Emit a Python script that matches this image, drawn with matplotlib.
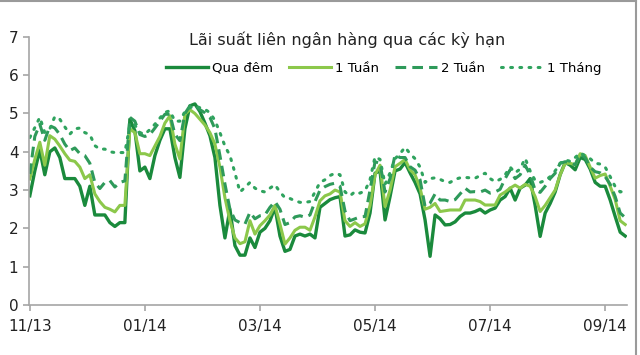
import numpy as np
import matplotlib
matplotlib.use("Agg")
import matplotlib.pyplot as plt
from matplotlib.lines import Line2D

# Interbank rates, one value per sample point (Nov 2013 - mid Sep 2014)
qua_dem = [
    2.85, 3.50, 4.05, 3.40, 4.00, 4.10, 3.85, 3.30, 3.30, 3.30,
    3.10, 2.60, 3.10, 2.35, 2.35, 2.35, 2.15, 2.05, 2.15, 2.15,
    4.85, 4.55, 3.50, 3.60, 3.30, 3.90, 4.30, 4.60, 4.60, 3.85,
    3.33, 4.60, 5.20, 5.25, 5.05, 4.75, 4.42, 3.85, 2.60, 1.75,
    2.50, 1.55, 1.30, 1.30, 1.75, 1.50, 1.90, 2.00, 2.20, 2.55,
    1.80, 1.40, 1.45, 1.80, 1.85, 1.80, 1.85, 1.75, 2.55, 2.65,
    2.75, 2.80, 2.83, 1.80, 1.83, 1.96, 1.90, 1.88, 2.40, 3.44,
    3.50, 2.22, 2.83, 3.50, 3.55, 3.72, 3.45, 3.20, 2.90, 2.22,
    1.27, 2.35, 2.25, 2.09, 2.10, 2.17, 2.31, 2.40, 2.40, 2.44,
    2.50, 2.40, 2.48, 2.53, 2.74, 2.83, 3.05, 2.74, 3.05, 3.13,
    3.30, 2.60, 1.79, 2.40, 2.65, 2.95, 3.40, 3.72, 3.65, 3.53,
    3.85, 3.80, 3.55, 3.20, 3.10, 3.10, 2.74, 2.31, 1.90, 1.80,
]
tuan_1 = [
    3.29, 3.80, 4.25, 3.65, 4.42, 4.33, 4.15, 3.95, 3.78, 3.75,
    3.60, 3.30, 3.40, 2.90, 2.70, 2.55, 2.50, 2.43, 2.60, 2.60,
    4.60, 4.50, 3.95, 3.95, 3.90, 4.15, 4.40, 4.75, 4.94, 4.20,
    3.81, 4.98, 5.10, 5.00, 4.85, 4.70, 4.50, 4.20, 3.60, 2.80,
    2.20, 1.75, 1.60, 1.65, 2.20, 1.85, 2.07, 2.20, 2.35, 2.60,
    2.11, 1.59, 1.75, 1.95, 2.03, 2.03, 1.95, 2.30, 2.72, 2.85,
    2.90, 3.00, 2.95, 2.20, 2.05, 2.15, 2.05, 2.12, 2.60, 3.40,
    3.65, 2.57, 3.00, 3.61, 3.70, 3.80, 3.53, 3.40, 3.05, 2.50,
    2.55, 2.65, 2.44, 2.46, 2.48, 2.48, 2.48, 2.74, 2.74, 2.74,
    2.70, 2.61, 2.61, 2.61, 2.87, 2.95, 3.05, 3.13, 3.05, 3.15,
    3.10, 2.83, 2.44, 2.60, 2.80, 3.00, 3.40, 3.70, 3.70, 3.66,
    3.95, 3.90, 3.60, 3.31, 3.38, 3.42, 3.10, 2.75, 2.20, 2.10,
]
tuan_2 = [
    3.42, 4.40, 4.72, 4.30, 4.68, 4.62, 4.45, 4.20, 4.03, 4.10,
    3.95, 3.90, 3.70, 3.20, 3.04, 3.20, 3.25, 3.08, 3.20, 3.24,
    4.90, 4.80, 4.45, 4.40, 4.45, 4.62, 4.80, 4.98, 4.98, 4.46,
    4.29, 5.00, 5.20, 5.22, 5.10, 5.02, 4.90, 4.60, 3.90, 3.16,
    2.50, 2.22, 2.15, 2.11, 2.42, 2.25, 2.33, 2.35, 2.55, 2.70,
    2.50, 2.10, 2.15, 2.30, 2.33, 2.29, 2.35, 2.70, 3.00, 3.09,
    3.15, 3.18, 3.10, 2.45, 2.20, 2.25, 2.30, 2.31, 3.00, 3.74,
    3.70, 2.95, 3.30, 3.92, 3.85, 3.85, 3.61, 3.52, 3.27, 2.57,
    2.66, 2.90, 2.74, 2.74, 2.70, 2.75, 2.90, 3.05, 2.95, 2.96,
    2.95, 3.00, 2.92, 2.95, 3.02, 3.30, 3.53, 3.30, 3.40, 3.65,
    3.40, 3.00, 2.94, 3.10, 3.30, 3.44, 3.70, 3.74, 3.72, 3.66,
    3.95, 3.85, 3.60, 3.48, 3.45, 3.35, 3.15, 2.83, 2.40, 2.28,
]
thang_1 = [
    4.37, 4.63, 4.90, 4.50, 4.60, 4.92, 4.85, 4.65, 4.46, 4.60,
    4.62, 4.50, 4.45, 4.16, 4.07, 4.07, 4.00, 3.98, 3.98, 3.98,
    4.70, 4.70, 4.50, 4.46, 4.58, 4.72, 4.88, 5.03, 5.07, 4.80,
    4.80, 5.05, 5.15, 5.20, 5.15, 5.11, 5.02, 4.82, 4.50, 4.15,
    3.90, 3.45, 2.95, 3.07, 3.20, 3.05, 2.98, 2.95, 3.05, 3.14,
    2.95, 2.80, 2.78, 2.72, 2.68, 2.68, 2.70, 2.95, 3.20, 3.27,
    3.38, 3.44, 3.40, 2.95, 2.85, 2.96, 2.92, 2.98, 3.27, 3.87,
    3.80, 3.15, 3.45, 3.82, 3.95, 4.12, 3.95, 3.82, 3.60, 3.20,
    3.30, 3.32, 3.28, 3.22, 3.20, 3.28, 3.32, 3.33, 3.32, 3.31,
    3.38, 3.44, 3.30, 3.22, 3.28, 3.40, 3.60, 3.45, 3.55, 3.83,
    3.50, 3.25, 3.20, 3.25, 3.35, 3.50, 3.70, 3.79, 3.75, 3.85,
    3.97, 3.90, 3.82, 3.70, 3.68, 3.60, 3.35, 3.09, 2.95, 2.98,
]

tick_pos = [0, 23, 46, 69, 92, 115]
tick_labels = ["11/13", "01/14", "03/14", "05/14", "07/14", "09/14"]

fig = plt.figure(figsize=(6.4, 3.55), dpi=100)
ax = fig.add_axes([0.045, 0.141, 0.935, 0.755])

x = np.arange(len(qua_dem))
ax.plot(x, qua_dem, color="#1a8a3c", lw=2.4, label="Qua đêm")
ax.plot(x, tuan_1, color="#8cc84b", lw=2.2, label="1 Tuần")
ax.plot(x, tuan_2, color="#2e9a5a", lw=2.2, ls=(0, (3.5, 2)), label="2 Tuần")
ax.plot(x, thang_1, color="#2fa35e", lw=2.2, ls=(0, (0.6, 2.4)),
        dash_capstyle="round", label="1 Tháng")

ax.set_xlim(-0.2, 119.4)
ax.set_ylim(0, 7)
ax.set_yticks(range(8))
ax.set_xticks(tick_pos)
ax.set_xticklabels(tick_labels)

for s in ["top", "right"]:
    ax.spines[s].set_visible(False)
for s in ["left", "bottom"]:
    ax.spines[s].set_color("#a6a6a6")
    ax.spines[s].set_linewidth(1.2)
ax.tick_params(axis="both", colors="#a6a6a6", labelcolor="#222222",
               labelsize=11, length=4, width=1.2)
ax.tick_params(axis="x", pad=6)

fig.text(0.543, 0.887, "Lãi suất liên ngân hàng qua các kỳ hạn",
         ha="center", va="center", fontsize=11.5, color="#222222")
fig.legend(loc="center", bbox_to_anchor=(0.6, 0.808), ncol=4, frameon=False,
           fontsize=9.5, handlelength=3.2, handletextpad=0.3, columnspacing=1.2)

# thin frame pieces on top and right of the picture
fig.add_artist(Line2D([0, 0.993], [0.997, 0.997], color="#9a9a9a", lw=1.5))
fig.add_artist(Line2D([0.993, 0.993], [0, 0.997], color="#9a9a9a", lw=1.5))

fig.savefig("out.png", dpi=100)
